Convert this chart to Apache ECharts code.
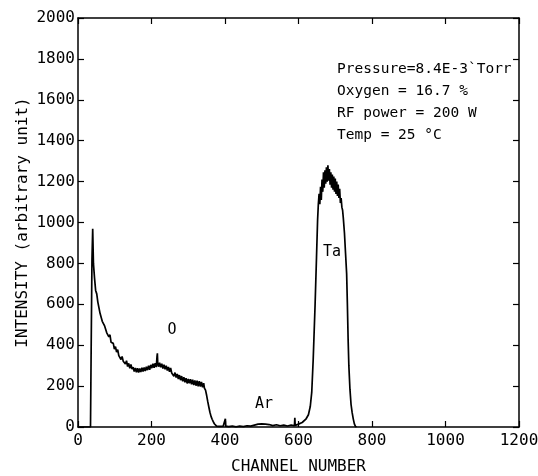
<!DOCTYPE html>
<html><head><meta charset="utf-8">
<script src="https://cdn.jsdelivr.net/npm/echarts@6/dist/echarts.min.js"></script>
<style>html,body{margin:0;padding:0;background:#fff}#c{width:538px;height:476px}</style>
</head><body><div id="c"></div>
<script>
const channels = [0,34,36,38,40,42,45,48,51,54,57,60,63,66,69,72,75,78,81,84,87,90,93,96,99,102,105,108,111,114,117,120,123,126,129,132,135,138,141,144,147,150,153,156,159,162,165,168,171,174,177,180,183,186,189,192,195,198,201,204,207,210,213,215,216,217,219,222,225,228,231,234,237,240,243,246,249,252,255,258,261,264,267,270,273,276,279,282,285,288,291,294,297,300,303,306,309,312,315,318,321,324,327,330,333,336,339,342,344,347,350,353,356,359,362,365,368,371,374,377,380,385,390,395,400,401,402,410,420,430,440,450,460,470,480,490,495,500,505,510,515,520,530,540,550,560,570,580,589,590,591,600,610,620,627,632,636,640,645,649,652,654,656,658,660,662,664,666,668,670,672,674,676,678,680,682,684,686,688,690,692,694,696,698,700,702,704,706,708,710,712,714,716,718,720,722,725,728,731,733,735,737,740,743,746,749,752,755,758];
const intensity = [0,0,420,820,969,800,728,668,651,611,604,556,552,517,524,496,499,462,470,441,451,414,422,409,381,393,366,378,349,357,330,345,322,331,308,324,296,311,287,306,283,293,271,289,268,288,266,286,269,290,271,291,274,295,278,300,280,304,288,310,290,312,293,345,360,310,295,314,292,309,286,305,282,300,276,294,270,289,264,272,248,266,242,259,235,254,229,249,223,243,219,239,213,235,214,234,209,231,205,228,202,226,199,224,198,220,194,214,190,180,155,125,98,72,52,38,26,16,9,4,1,3,0,4,6,40,4,2,5,1,4,2,6,4,9,14,8,15,9,14,8,12,7,11,6,9,5,10,6,45,8,14,22,38,60,100,169,330,590,830,1015,1090,1140,1090,1175,1110,1210,1150,1245,1170,1255,1190,1270,1200,1280,1205,1262,1185,1245,1170,1235,1160,1225,1150,1215,1140,1200,1130,1185,1120,1165,1095,1120,1075,1060,1020,950,850,750,600,430,300,185,110,70,40,15,3,0];
const xTicks = [0,200,400,600,800,1000,1200];
const yTicks = [0,200,400,600,800,1000,1200,1400,1600,1800,2000];
const peakLabels = ['O','Ar','Ta'];
const peakLabelX = [256,506,691];
const peakLabelY = [474,112,856];
const infoLines = ['Pressure=8.4E-3`Torr','Oxygen = 16.7 %','RF power = 200 W','Temp = 25 °C'];

const FONT = 'DejaVu Sans Mono';
const chart = echarts.init(document.getElementById('c'), null, {renderer:'canvas'});
function axisCommon(){
  return {
    axisLine:{show:true,onZero:false,lineStyle:{color:'#000',width:1.5}},
    axisTick:{show:true,inside:true,length:6,lineStyle:{color:'#000',width:1.2}},
    splitLine:{show:false}
  };
}
chart.setOption({
  animation:false,
  backgroundColor:'#fff',
  textStyle:{fontFamily:FONT},
  grid:{left:78,right:19,top:18,bottom:49,containLabel:false,outerBoundsMode:'none'},
  xAxis:[
    Object.assign({type:'value',min:0,max:1200,interval:200,position:'bottom',
      name:'CHANNEL NUMBER',nameLocation:'middle',nameGap:32,
      nameTextStyle:{fontSize:16,color:'#000',fontFamily:FONT},
      axisLabel:{fontSize:16,color:'#000',margin:6,fontFamily:FONT,
        formatter:v=>xTicks.includes(v)?String(v):''}},axisCommon()),
    Object.assign({type:'value',min:0,max:1200,interval:200,position:'top',axisLabel:{show:false}},axisCommon())
  ],
  yAxis:[
    Object.assign({type:'value',min:0,max:2000,interval:200,position:'left',
      name:'INTENSITY (arbitrary unit)',nameLocation:'middle',nameGap:47,nameMoveOverlap:false,
      nameTextStyle:{fontSize:16,color:'#000',fontFamily:FONT},
      axisLabel:{fontSize:16,color:'#000',margin:3,fontFamily:FONT,
        formatter:v=>yTicks.includes(v)?String(v):''}},axisCommon()),
    Object.assign({type:'value',min:0,max:2000,interval:200,position:'right',axisLabel:{show:false}},axisCommon())
  ],
  series:[
    {type:'line',data:channels.map((c,i)=>[c,intensity[i]]),showSymbol:false,symbol:'none',
     lineStyle:{color:'#000',width:1.7},z:3},
    {type:'scatter',symbolSize:0,itemStyle:{opacity:1,color:'#000'},
     data:peakLabels.map((n,i)=>({name:n,value:[peakLabelX[i],peakLabelY[i]]})),
     label:{show:true,position:'inside',formatter:p=>p.name,color:'#000',textBorderWidth:0,fontSize:15,fontFamily:FONT},z:4}
  ],
  graphic:infoLines.map((t,i)=>({type:'text',left:337,top:62+i*22,
    style:{text:t,fill:'#000',font:'14.5px "DejaVu Sans Mono"'}}))
});
</script></body></html>
